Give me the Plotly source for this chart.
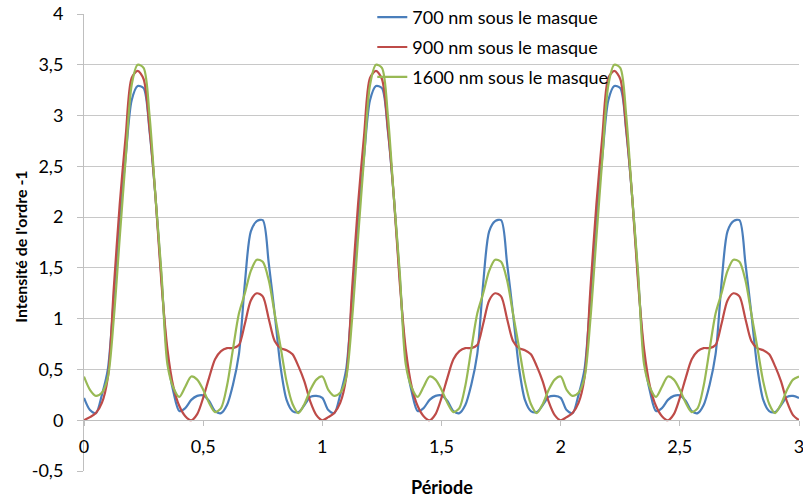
import plotly.graph_objects as go

# Position within one grating period (the pattern repeats every period)
phase = [0.000, 0.025, 0.050, 0.075, 0.100, 0.125, 0.150, 0.175, 0.200, 0.225,
         0.250, 0.275, 0.300, 0.325, 0.350, 0.375, 0.400, 0.425, 0.450, 0.475,
         0.500, 0.525, 0.550, 0.575, 0.600, 0.625, 0.650, 0.675, 0.700, 0.725,
         0.750, 0.775, 0.800, 0.825, 0.850, 0.875, 0.900, 0.925, 0.950, 0.975]
n_periods = 3

# Intensity of the -1 order over one period, for each depth under the mask
i_700 = [0.22, 0.10, 0.07, 0.25, 0.50, 1.20, 2.00, 2.60, 3.15, 3.29,
         3.27, 2.85, 2.20, 1.40, 0.62, 0.28, 0.09, 0.12, 0.20, 0.24,
         0.245, 0.19, 0.09, 0.07, 0.15, 0.35, 0.65, 1.35, 1.86, 1.96,
         1.97, 1.55, 1.05, 0.52, 0.20, 0.09, 0.08, 0.15, 0.23, 0.24]
i_900 = [0.00, 0.03, 0.07, 0.17, 0.42, 1.30, 2.13, 2.80, 3.37, 3.44,
         3.36, 2.87, 2.20, 1.35, 0.70, 0.33, 0.14, 0.04, 0.00, 0.06,
         0.22, 0.42, 0.60, 0.68, 0.71, 0.71, 0.74, 0.95, 1.18, 1.25,
         1.22, 1.00, 0.78, 0.71, 0.69, 0.65, 0.53, 0.38, 0.18, 0.05]
i_1600 = [0.43, 0.30, 0.24, 0.27, 0.42, 1.00, 1.80, 2.58, 3.30, 3.50,
          3.47, 3.00, 2.20, 1.45, 0.55, 0.32, 0.23, 0.33, 0.43, 0.40,
          0.30, 0.17, 0.08, 0.12, 0.34, 0.70, 1.05, 1.25, 1.47, 1.58,
          1.56, 1.38, 1.05, 0.72, 0.38, 0.16, 0.07, 0.16, 0.30, 0.40]

series_names = ["700 nm sous le masque", "900 nm sous le masque", "1600 nm sous le masque"]
series_colors = ["#4A7EBB", "#BE4B48", "#98B954"]

x_ticks = [0, 0.5, 1, 1.5, 2, 2.5, 3]
x_ticktext = ["0", "0,5", "1", "1,5", "2", "2,5", "3"]
y_ticks = [-0.5, 0, 0.5, 1, 1.5, 2, 2.5, 3, 3.5, 4]
y_ticktext = ["-0,5", "0", "0,5", "1", "1,5", "2", "2,5", "3", "3,5", "4"]


def unroll(values):
    """Lay the one-period profile over all periods, closing on the last one."""
    xs, ys = [], []
    for k in range(n_periods):
        xs += [k + p for p in phase]
        ys += list(values)
    xs.append(float(n_periods))
    ys.append(values[0])
    return xs, ys


FONT = "Lato, 'Open Sans', sans-serif"
fig = go.Figure()
for i, (vals, name, col) in enumerate(zip([i_700, i_900, i_1600], series_names, series_colors)):
    xs, ys = unroll(vals)
    fig.add_trace(go.Scatter(
        x=xs, y=ys, name=name, mode="lines",
        line=dict(color=col, width=2.2, shape="spline", smoothing=0.8),
        legendgroup=f"g{i}",
    ))

fig.update_layout(
    width=803, height=497,
    margin=dict(l=84, r=4, t=14, b=26, autoexpand=False),
    paper_bgcolor="white", plot_bgcolor="white",
    font=dict(family=FONT, size=18, color="#000000"),
    showlegend=True,
    legend=dict(
        x=0.4032, y=1.033, xanchor="left", yanchor="top",
        bgcolor="rgba(0,0,0,0)", borderwidth=0,
        traceorder="grouped", tracegroupgap=3.5,
        font=dict(family=FONT, size=18, color="#000000"),
    ),
    xaxis=dict(
        range=[0, 3], tickvals=x_ticks, ticktext=x_ticktext,
        showgrid=False, zeroline=False,
        showline=True, linecolor="#BFBFBF", linewidth=1,
        ticks="outside", ticklen=5, tickcolor="#BFBFBF",
        anchor="free", position=0.5 / 4.5,
        ticklabelstandoff=5, ticklabeloverflow="allow",
    ),
    yaxis=dict(
        range=[-0.5, 4], tickvals=y_ticks, ticktext=y_ticktext,
        showgrid=True, gridcolor="#C8C8C8", gridwidth=1, zeroline=False,
        showline=True, linecolor="#BFBFBF", linewidth=1,
        ticks="outside", ticklen=6, tickcolor="#BFBFBF",
        ticklabelstandoff=10,
    ),
    annotations=[
        dict(text="<b>Période</b>", xref="paper", yref="paper", x=0.5, y=-0.035,
             xanchor="center", yanchor="middle", showarrow=False,
             font=dict(family=FONT, size=18, color="#000000")),
        dict(text="<b>Intensité de l'ordre -1</b>", xref="paper", yref="paper",
             x=-0.09, y=0.49, xanchor="center", yanchor="middle", textangle=-90,
             showarrow=False, font=dict(family=FONT, size=16, color="#000000")),
    ],
)

fig.write_html("out.html")
